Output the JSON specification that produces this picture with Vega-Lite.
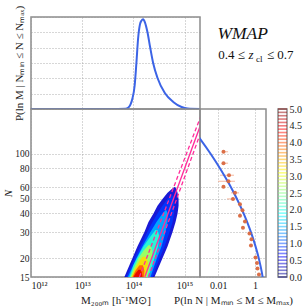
{
  "$schema": "https://vega.github.io/schema/vega-lite/v6.json",
  "padding": {"left": 1, "top": 4, "right": 0, "bottom": 0},
  "background": "white",
  "datasets": {
    "topcurve": [
      {"M": 1e12, "P": 0}, {"M": 5e13, "P": 0}, {"M": 7.0e13, "P": 0.01}, {"M": 7.9e13, "P": 0.08},
      {"M": 8.8e13, "P": 0.3}, {"M": 9.55e13, "P": 0.67}, {"M": 1.06e14, "P": 1.55}, {"M": 1.145e14, "P": 3.0},
      {"M": 1.236e14, "P": 4.6}, {"M": 1.34e14, "P": 5.5}, {"M": 1.435e14, "P": 5.76}, {"M": 1.55e14, "P": 5.85},
      {"M": 1.68e14, "P": 5.65}, {"M": 1.88e14, "P": 5.02}, {"M": 2.12e14, "P": 4.04}, {"M": 2.43e14, "P": 3.0},
      {"M": 2.96e14, "P": 2.02}, {"M": 4.11e14, "P": 1.04}, {"M": 6.0e14, "P": 0.46}, {"M": 8.73e14, "P": 0.13},
      {"M": 1.145e15, "P": 0.03}, {"M": 2.0e15, "P": 0}
    ],
    "contours": [
      {"lev": 0.4, "N": 15, "lo": 6.66e13, "hi": 2.58e14},
      {"lev": 0.4, "N": 20, "lo": 9.56e13, "hi": 3.70e14},
      {"lev": 0.4, "N": 24, "lo": 1.198e14, "hi": 4.64e14},
      {"lev": 0.4, "N": 30, "lo": 1.643e14, "hi": 5.82e14},
      {"lev": 0.4, "N": 35, "lo": 1.969e14, "hi": 6.66e14},
      {"lev": 0.4, "N": 40, "lo": 2.467e14, "hi": 7.29e14},
      {"lev": 0.4, "N": 45, "lo": 2.955e14, "hi": 7.63e14},
      {"lev": 0.4, "N": 50, "lo": 3.70e14, "hi": 7.63e14},
      {"lev": 0.4, "N": 55, "lo": 4.64e14, "hi": 7.29e14},
      {"lev": 0.4, "N": 58, "lo": 5.56e14, "hi": 6.97e14},
      {"lev": 0.4, "N": 60, "lo": 6.366e14, "hi": 6.51e14},
      {"lev": 0.9, "N": 15, "lo": 7.29e13, "hi": 2.358e14},
      {"lev": 0.9, "N": 20, "lo": 1.046e14, "hi": 3.235e14},
      {"lev": 0.9, "N": 24, "lo": 1.372e14, "hi": 4.053e14},
      {"lev": 0.9, "N": 30, "lo": 1.882e14, "hi": 5.08e14},
      {"lev": 0.9, "N": 35, "lo": 2.358e14, "hi": 5.82e14},
      {"lev": 0.9, "N": 40, "lo": 2.955e14, "hi": 6.22e14},
      {"lev": 0.9, "N": 45, "lo": 3.70e14, "hi": 6.366e14},
      {"lev": 0.9, "N": 50, "lo": 4.64e14, "hi": 6.085e14},
      {"lev": 0.9, "N": 53, "lo": 5.56e14, "hi": 5.82e14},
      {"lev": 1.5, "N": 15, "lo": 7.80e13, "hi": 2.154e14},
      {"lev": 1.5, "N": 20, "lo": 1.145e14, "hi": 2.89e14},
      {"lev": 1.5, "N": 24, "lo": 1.502e14, "hi": 3.54e14},
      {"lev": 1.5, "N": 30, "lo": 2.154e14, "hi": 4.24e14},
      {"lev": 1.5, "N": 35, "lo": 2.825e14, "hi": 4.64e14},
      {"lev": 1.5, "N": 40, "lo": 3.70e14, "hi": 4.64e14},
      {"lev": 1.5, "N": 42, "lo": 4.24e14, "hi": 4.437e14},
      {"lev": 2.1, "N": 15, "lo": 8.35e13, "hi": 1.969e14},
      {"lev": 2.1, "N": 18, "lo": 1.0e14, "hi": 2.358e14},
      {"lev": 2.1, "N": 20, "lo": 1.171e14, "hi": 2.581e14},
      {"lev": 2.1, "N": 24, "lo": 1.571e14, "hi": 3.023e14},
      {"lev": 2.1, "N": 28, "lo": 2.154e14, "hi": 3.235e14},
      {"lev": 2.1, "N": 31, "lo": 2.70e14, "hi": 2.955e14},
      {"lev": 2.7, "N": 15, "lo": 8.73e13, "hi": 1.84e14},
      {"lev": 2.7, "N": 17, "lo": 1.0e14, "hi": 2.06e14},
      {"lev": 2.7, "N": 20, "lo": 1.253e14, "hi": 2.305e14},
      {"lev": 2.7, "N": 22.5, "lo": 1.571e14, "hi": 2.358e14},
      {"lev": 2.7, "N": 24.5, "lo": 1.969e14, "hi": 2.154e14},
      {"lev": 3.3, "N": 15, "lo": 9.14e13, "hi": 1.719e14},
      {"lev": 3.3, "N": 17, "lo": 1.07e14, "hi": 1.882e14},
      {"lev": 3.3, "N": 19, "lo": 1.282e14, "hi": 1.925e14},
      {"lev": 3.3, "N": 20.5, "lo": 1.502e14, "hi": 1.719e14},
      {"lev": 3.9, "N": 15, "lo": 9.56e13, "hi": 1.607e14},
      {"lev": 3.9, "N": 16.5, "lo": 1.094e14, "hi": 1.643e14},
      {"lev": 3.9, "N": 18, "lo": 1.311e14, "hi": 1.536e14},
      {"lev": 4.5, "N": 15, "lo": 1.0e14, "hi": 1.502e14},
      {"lev": 4.5, "N": 16, "lo": 1.12e14, "hi": 1.468e14},
      {"lev": 4.5, "N": 16.8, "lo": 1.253e14, "hi": 1.372e14}
    ],
    "fitlines": [
      {"kind": "mean", "M": 1.667e14, "N": 15}, {"kind": "mean", "M": 2.06e15, "N": 157},
      {"kind": "upper", "M": 1.31e14, "N": 15}, {"kind": "upper", "M": 2.06e15, "N": 178},
      {"kind": "lower", "M": 1.97e14, "N": 15}, {"kind": "lower", "M": 2.06e15, "N": 139}
    ],
    "rcurve": [
      {"P": 0.00044, "N": 144.5}, {"P": 0.00103, "N": 125.9}, {"P": 0.00386, "N": 100}, {"P": 0.01294, "N": 79.4},
      {"P": 0.0386, "N": 63.1}, {"P": 0.1026, "N": 50.1}, {"P": 0.243, "N": 39.8}, {"P": 0.514, "N": 31.6},
      {"P": 0.967, "N": 25.1}, {"P": 1.623, "N": 19.95}, {"P": 2.43, "N": 15.85}, {"P": 2.84, "N": 14.1}
    ],
    "rpoints": [
      {"N": 103.5, "P": 0.0191, "lo": 0.0175, "hi": 0.034},
      {"N": 86.7, "P": 0.0191, "lo": 0.0175, "hi": 0.034},
      {"N": 72.0, "P": 0.0382, "lo": 0.0123, "hi": 0.0715},
      {"N": 65.6, "P": 0.0358, "lo": 0.0096, "hi": 0.0811},
      {"N": 60.3, "P": 0.0191, "lo": 0.017, "hi": 0.022},
      {"N": 54.9, "P": 0.0811, "lo": 0.049, "hi": 0.134},
      {"N": 50.0, "P": 0.063, "lo": 0.0297, "hi": 0.118},
      {"N": 46.0, "P": 0.152, "lo": 0.13, "hi": 0.18},
      {"N": 42.0, "P": 0.208, "lo": 0.18, "hi": 0.24},
      {"N": 38.5, "P": 0.152, "lo": 0.13, "hi": 0.18},
      {"N": 35.3, "P": 0.285, "lo": 0.25, "hi": 0.33},
      {"N": 32.0, "P": 0.221, "lo": 0.19, "hi": 0.26},
      {"N": 29.3, "P": 0.501, "lo": 0.45, "hi": 0.56},
      {"N": 26.8, "P": 0.644, "lo": 0.58, "hi": 0.72},
      {"N": 24.4, "P": 0.605, "lo": 0.55, "hi": 0.67},
      {"N": 20.3, "P": 1.065, "lo": 1.0, "hi": 1.14},
      {"N": 18.6, "P": 1.285, "lo": 1.2, "hi": 1.37},
      {"N": 17.1, "P": 1.37, "lo": 1.28, "hi": 1.46},
      {"N": 15.6, "P": 1.65, "lo": 1.55, "hi": 1.76}
    ],
    "cbar": [
      {"lev": 0.0}, {"lev": 0.1}, {"lev": 0.2}, {"lev": 0.3}, {"lev": 0.4}, {"lev": 0.5}, {"lev": 0.6}, {"lev": 0.7}, {"lev": 0.8}, {"lev": 0.9},
      {"lev": 1.0}, {"lev": 1.1}, {"lev": 1.2}, {"lev": 1.3}, {"lev": 1.4}, {"lev": 1.5}, {"lev": 1.6}, {"lev": 1.7}, {"lev": 1.8}, {"lev": 1.9},
      {"lev": 2.0}, {"lev": 2.1}, {"lev": 2.2}, {"lev": 2.3}, {"lev": 2.4}, {"lev": 2.5}, {"lev": 2.6}, {"lev": 2.7}, {"lev": 2.8}, {"lev": 2.9},
      {"lev": 3.0}, {"lev": 3.1}, {"lev": 3.2}, {"lev": 3.3}, {"lev": 3.4}, {"lev": 3.5}, {"lev": 3.6}, {"lev": 3.7}, {"lev": 3.8}, {"lev": 3.9},
      {"lev": 4.0}, {"lev": 4.1}, {"lev": 4.2}, {"lev": 4.3}, {"lev": 4.4}, {"lev": 4.5}, {"lev": 4.6}, {"lev": 4.7}, {"lev": 4.8}, {"lev": 4.9},
      {"lev": 5.0}
    ],
    "labels": [
      {"label": "WMAP"}
    ],
    "none": []
  },
  "columns": 4,
  "spacing": 0,
  "bounds": "flush",
  "align": "each",
  "concat": [
    {
      "width": 169,
      "height": 92,
      "data": {"name": "topcurve"},
      "mark": {"type": "line", "color": "#3c64e6", "strokeWidth": 2, "interpolate": "monotone", "clip": true},
      "encoding": {
        "x": {"field": "M", "type": "quantitative",
              "scale": {"type": "log", "domain": [1e12, 2e15], "nice": false},
              "axis": {"values": [1e12, 1e13, 1e14, 1e15], "labels": false, "title": null, "grid": true}},
        "y": {"field": "P", "type": "quantitative",
              "scale": {"domain": [0, 6], "nice": false, "zero": false},
              "axis": {"values": [0, 1, 2, 3, 4, 5, 6], "labels": false, "grid": true,
                       "title": "P(ln M | Nₘᵢₙ ≤ N ≤ Nₘₐₓ)", "titleFontSize": 11, "titleX": -12, "titleBaseline": "middle"}}
      }
    },
    {
      "width": 66,
      "height": 92,
      "view": {"stroke": null},
      "data": {"name": "labels"},
      "layer": [
        {
          "mark": {"type": "text", "text": "WMAP", "font": "Liberation Serif", "fontStyle": "italic", "fontSize": 17.5, "align": "center", "baseline": "alphabetic", "color": "#111"},
          "encoding": {
            "x": {"datum": 0.647, "type": "quantitative", "scale": {"domain": [0, 1]}, "axis": null},
            "y": {"datum": 0.761, "type": "quantitative", "scale": {"domain": [0, 1]}, "axis": null}
          }
        },
        {
          "mark": {"type": "text", "text": "0.4 ≤", "font": "Liberation Serif", "fontSize": 13, "align": "right", "baseline": "alphabetic", "color": "#111"},
          "encoding": {
            "x": {"datum": 0.682, "type": "quantitative"},
            "y": {"datum": 0.54, "type": "quantitative"}
          }
        },
        {
          "mark": {"type": "text", "text": "z", "font": "Liberation Serif", "fontStyle": "italic", "fontSize": 13, "align": "left", "baseline": "alphabetic", "color": "#111"},
          "encoding": {
            "x": {"datum": 0.735, "type": "quantitative"},
            "y": {"datum": 0.54, "type": "quantitative"}
          }
        },
        {
          "mark": {"type": "text", "text": "cl", "font": "Liberation Serif", "fontSize": 9, "align": "left", "baseline": "alphabetic", "color": "#111"},
          "encoding": {
            "x": {"datum": 0.848, "type": "quantitative"},
            "y": {"datum": 0.516, "type": "quantitative"}
          }
        },
        {
          "mark": {"type": "text", "text": "≤ 0.7", "font": "Liberation Serif", "fontSize": 13, "align": "left", "baseline": "alphabetic", "color": "#111"},
          "encoding": {
            "x": {"datum": 1.015, "type": "quantitative"},
            "y": {"datum": 0.54, "type": "quantitative"}
          }
        }
      ]
    },
    {"width": 12, "height": 92, "view": {"stroke": null}, "data": {"name": "none"}, "mark": "point"},
    {"width": 9, "height": 92, "view": {"stroke": null}, "data": {"name": "none"}, "mark": "point"},
    {
      "width": 169,
      "height": 168,
      "layer": [
        {
          "data": {"name": "contours"},
          "mark": {"type": "area", "orient": "horizontal", "clip": true, "opacity": 0.9},
          "encoding": {
            "y": {"field": "N", "type": "quantitative",
                  "scale": {"type": "log", "domain": [15, 200], "nice": false},
                  "axis": {"values": [15, 20, 30, 40, 50, 60, 80, 100], "grid": true, "labelPadding": 2,
                           "title": "N", "titleFontStyle": "italic", "titleFontSize": 11, "titleX": -23, "titleBaseline": "middle"}},
            "x": {"field": "lo", "type": "quantitative", "stack": null,
                  "scale": {"type": "log", "domain": [1e12, 2e15], "nice": false},
                  "axis": {"values": [1e12, 1e13, 1e14, 1e15], "grid": true,
                           "labelExpr": "datum.value < 5e12 ? '10¹²' : datum.value < 5e13 ? '10¹³' : datum.value < 5e14 ? '10¹⁴' : '10¹⁵'",
                           "labelFontSize": 10,
                           "title": "M₂₀₀ₘ [h⁻¹M⊙]", "titleFontSize": 11, "titlePadding": 4}},
            "x2": {"field": "hi"},
            "color": {"field": "lev", "type": "quantitative", "legend": null,
                      "scale": {"domain": [0, 0.625, 1.875, 3.125, 4.375, 5], "range": ["#00007f", "#0000ff", "#00ffff", "#ffff00", "#ff0000", "#7f0000"], "interpolate": "rgb"}}
          }
        },
        {
          "data": {"name": "fitlines"},
          "transform": [{"filter": "datum.kind == 'mean'"}],
          "mark": {"type": "line", "color": "#ff2d9b", "strokeWidth": 1.3, "clip": true},
          "encoding": {
            "x": {"field": "M", "type": "quantitative"},
            "y": {"field": "N", "type": "quantitative"}
          }
        },
        {
          "data": {"name": "fitlines"},
          "transform": [{"filter": "datum.kind != 'mean'"}],
          "mark": {"type": "line", "color": "#ff2d9b", "strokeWidth": 1.3, "strokeDash": [4, 2.5], "clip": true},
          "encoding": {
            "x": {"field": "M", "type": "quantitative"},
            "y": {"field": "N", "type": "quantitative"},
            "detail": {"field": "kind"}
          }
        }
      ]
    },
    {
      "width": 66,
      "height": 168,
      "layer": [
        {
          "data": {"name": "rpoints"},
          "mark": {"type": "rule", "color": "#f4a98c", "strokeWidth": 1.2, "opacity": 0.7, "clip": true},
          "encoding": {
            "y": {"field": "N", "type": "quantitative",
                  "scale": {"type": "log", "domain": [15, 200], "nice": false},
                  "axis": {"values": [15, 20, 30, 40, 50, 60, 80, 100], "grid": true, "labels": false, "title": null}},
            "x": {"field": "lo", "type": "quantitative",
                  "scale": {"type": "log", "domain": [0.001, 4], "nice": false},
                  "axis": {"values": [0.01, 1], "grid": true, "labelFontSize": 10,
                           "labelExpr": "datum.value < 0.1 ? '0.01' : '1'",
                           "title": "P(ln N | Mₘᵢₙ ≤ M ≤ Mₘₐₓ)", "titleFontSize": 11, "titlePadding": 4}},
            "x2": {"field": "hi"}
          }
        },
        {
          "data": {"name": "rcurve"},
          "mark": {"type": "line", "color": "#3c64e6", "strokeWidth": 2, "interpolate": "monotone", "clip": true},
          "encoding": {
            "x": {"field": "P", "type": "quantitative"},
            "y": {"field": "N", "type": "quantitative"}
          }
        },
        {
          "data": {"name": "rpoints"},
          "mark": {"type": "circle", "color": "#d9683f", "size": 16, "opacity": 0.95, "clip": true},
          "encoding": {
            "x": {"field": "P", "type": "quantitative"},
            "y": {"field": "N", "type": "quantitative"}
          }
        }
      ]
    },
    {"width": 12, "height": 168, "view": {"stroke": null}, "data": {"name": "none"}, "mark": "point"},
    {
      "width": 9,
      "height": 168,
      "data": {"name": "cbar"},
      "mark": {"type": "rule", "strokeWidth": 1.6, "opacity": 0.5},
      "encoding": {
        "y": {"field": "lev", "type": "quantitative",
              "scale": {"domain": [0, 5], "nice": false},
              "axis": {"orient": "right", "values": [0, 0.5, 1, 1.5, 2, 2.5, 3, 3.5, 4, 4.5, 5], "format": ".1f",
                       "grid": false, "title": null, "labelFontSize": 10, "labelPadding": 2}},
        "color": {"field": "lev", "type": "quantitative", "legend": null,
                  "scale": {"domain": [0, 0.625, 1.875, 3.125, 4.375, 5], "range": ["#00007f", "#0000ff", "#00ffff", "#ffff00", "#ff0000", "#7f0000"], "interpolate": "rgb"}}
      }
    }
  ],
  "config": {
    "font": "Liberation Serif",
    "view": {"stroke": "#8c8c8c", "strokeWidth": 1.5},
    "axis": {
      "labelFont": "Liberation Serif", "labelFontSize": 9.5, "labelColor": "#1a1a1a",
      "titleFont": "Liberation Serif", "titleFontWeight": "normal", "titleColor": "#1a1a1a",
      "gridColor": "#9a9a9a", "gridDash": [1, 2], "gridWidth": 0.8,
      "domain": false, "tickSize": 0, "labelPadding": 3
    }
  }
}
